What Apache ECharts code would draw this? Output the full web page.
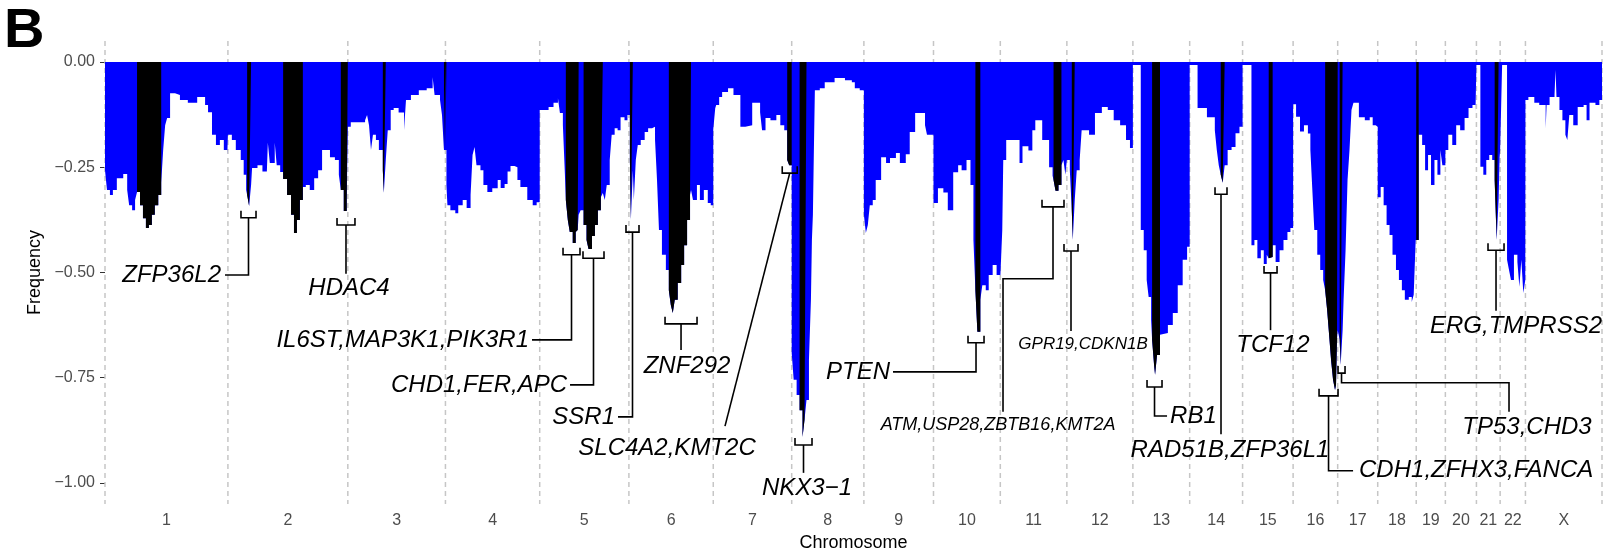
<!DOCTYPE html>
<html lang="en">
<head>
<meta charset="UTF-8">
<title>Deletion frequency</title>
<script src="https://cdn.jsdelivr.net/npm/echarts@6.0.0/dist/echarts.min.js"></script>
<style>
  html, body { margin: 0; padding: 0; background: #fff; }
  #chart { width: 1610px; height: 552px; }
</style>
</head>
<body>
<div id="chart"></div>
<script>
// chromosomes and their lengths (Mb)
var chrNames = ['1', '2', '3', '4', '5', '6', '7', '8', '9', '10', '11', '12',
    '13', '14', '15', '16', '17', '18', '19', '20', '21', '22', 'X'];
var chrLengths = [249.3, 243.2, 198.0, 191.2, 180.9, 171.1, 159.1, 146.4, 141.2, 135.5, 135.0, 133.9,
    115.2, 107.3, 102.5, 90.4, 81.2, 78.1, 59.1, 63.0, 48.1, 51.3, 155.3];

// deletion frequency per chromosome: [position Mb, frequency], each value holds until the next position
var chr1 = [[0, -0.257], [4, -0.304], [10, -0.316], [16, -0.304], [24, -0.276], [37, -0.266], [45, -0.304],
    [49, -0.34], [55, -0.352], [61, -0.328], [65, -0.309], [71, -0.34], [77, -0.371], [83, -0.394], [89, -0.387],
    [95, -0.363], [101, -0.34], [108, -0.316], [114, -0.287], [118, -0.209], [122, -0.15], [126, -0.133],
    [132, -0.074], [142, -0.078], [152, -0.09], [168, -0.097], [187, -0.083], [203, -0.102], [209, -0.119],
    [217, -0.173], [225, -0.197], [233, -0.185], [241, -0.209], [248, -0.221]];
var chr2 = [[0, -0.173], [8, -0.185], [16, -0.209], [26, -0.233], [32, -0.268], [37, -0.304], [39, -0.316],
    [43, -0.342], [47, -0.292], [49, -0.252], [60, -0.245], [70, -0.26], [79, -0.257], [81, -0.192], [85, -0.24],
    [95, -0.192], [99, -0.245], [106, -0.261], [112, -0.278], [120, -0.316], [128, -0.363], [134, -0.406],
    [140, -0.375], [146, -0.328], [152, -0.297], [158, -0.292], [166, -0.304], [175, -0.276], [183, -0.257],
    [191, -0.209], [207, -0.226], [217, -0.233], [225, -0.268], [229, -0.304], [235, -0.354], [241, -0.328]];
var chr3 = [[0, -0.154], [6, -0.143], [35, -0.138], [39, -0.126], [43, -0.15], [47, -0.209], [51, -0.173],
    [57, -0.185], [63, -0.209], [71, -0.257], [73, -0.311], [77, -0.233], [81, -0.162], [87, -0.114],
    [93, -0.109], [103, -0.12], [114, -0.162], [118, -0.09], [128, -0.078], [144, -0.067], [160, -0.062],
    [172, -0.036], [176, -0.078], [187, -0.09], [191, -0.126], [195, -0.209]];
var chr4 = [[0, -0.209], [2, -0.292], [4, -0.34], [10, -0.352], [20, -0.359], [26, -0.34], [35, -0.328],
    [43, -0.347], [51, -0.316], [55, -0.221], [59, -0.202], [63, -0.245], [71, -0.257], [77, -0.292],
    [85, -0.309], [95, -0.3], [106, -0.28], [112, -0.299], [120, -0.29], [126, -0.26], [132, -0.247],
    [140, -0.25], [146, -0.28], [152, -0.297], [166, -0.328], [177, -0.34], [185, -0.333]];
var chr5 = [[0, -0.114], [18, -0.107], [28, -0.097], [37, -0.086], [41, -0.121], [47, -0.15], [51, -0.264],
    [53, -0.328], [57, -0.375], [61, -0.404], [67, -0.43], [73, -0.404], [77, -0.399], [79, -0.363],
    [83, -0.352], [89, -0.387], [95, -0.423], [99, -0.444], [106, -0.413], [112, -0.387], [118, -0.352],
    [124, -0.321], [128, -0.311], [132, -0.328], [136, -0.292], [142, -0.233], [146, -0.173], [152, -0.157],
    [158, -0.162], [164, -0.131], [172, -0.138], [178, -0.126]];
var chr6 = [[0, -0.126], [2, -0.233], [4, -0.375], [8, -0.257], [10, -0.328], [14, -0.233], [18, -0.197],
    [24, -0.185], [32, -0.166], [39, -0.157], [47, -0.154], [53, -0.185], [57, -0.28], [61, -0.399],
    [67, -0.458], [75, -0.494], [81, -0.542], [85, -0.577], [89, -0.596], [93, -0.565], [99, -0.525],
    [106, -0.482], [112, -0.435], [118, -0.375], [124, -0.316], [126, -0.304], [130, -0.328], [138, -0.292],
    [144, -0.328], [152, -0.304], [160, -0.335], [166, -0.34]];
var chr7 = [[0, -0.16], [4, -0.11], [6, -0.102], [12, -0.083], [18, -0.071], [30, -0.062], [41, -0.078],
    [55, -0.154], [65, -0.15], [79, -0.097], [95, -0.119], [99, -0.162], [106, -0.133], [116, -0.138],
    [128, -0.126], [136, -0.15], [144, -0.162], [150, -0.233], [154, -0.245]];
var chr8 = [[0, -0.691], [4, -0.755], [10, -0.791], [16, -0.827], [22, -0.891], [26, -0.85], [30, -0.803],
    [35, -0.708], [39, -0.565], [41, -0.423], [43, -0.363], [45, -0.209], [47, -0.067], [57, -0.062],
    [67, -0.048], [87, -0.038], [108, -0.043], [122, -0.048], [128, -0.062], [138, -0.067]];
var chr9 = [[0, -0.363], [4, -0.406], [8, -0.387], [12, -0.34], [18, -0.328], [24, -0.28], [35, -0.226],
    [45, -0.24], [53, -0.228], [65, -0.216], [73, -0.24], [85, -0.219], [93, -0.166], [104, -0.121],
    [124, -0.15], [128, -0.173]];
var chr10 = [[0, -0.335], [9, -0.3], [20, -0.31], [29, -0.352], [40, -0.262], [50, -0.245], [57, -0.257],
    [67, -0.233], [75, -0.292], [81, -0.423], [85, -0.542], [89, -0.641], [95, -0.565], [99, -0.53],
    [106, -0.542], [112, -0.506], [120, -0.482], [128, -0.506]];
var chr11 = [[0, -0.511], [4, -0.399], [6, -0.233], [12, -0.185], [39, -0.24], [45, -0.2], [57, -0.21],
    [65, -0.162], [71, -0.138], [85, -0.185], [99, -0.25], [106, -0.27], [108, -0.28], [112, -0.306],
    [118, -0.292], [124, -0.245], [128, -0.233], [132, -0.268]];
var chr12 = [[0, -0.233], [6, -0.257], [10, -0.352], [12, -0.423], [16, -0.328], [20, -0.257], [26, -0.233],
    [30, -0.162], [45, -0.173], [57, -0.121], [71, -0.107], [83, -0.114], [95, -0.138], [108, -0.15],
    [120, -0.185], [128, -0.204]];
var chr13 = [[0, -0.007], [16, -0.399], [22, -0.447], [28, -0.518], [32, -0.558], [37, -0.613], [39, -0.66],
    [43, -0.72], [45, -0.743], [49, -0.696], [55, -0.648], [59, -0.644], [71, -0.625], [81, -0.596],
    [91, -0.53], [101, -0.47], [110, -0.439]];
var chr14 = [[0, -0.007], [16, -0.109], [35, -0.131], [51, -0.162], [55, -0.209], [59, -0.245], [63, -0.268],
    [67, -0.287], [71, -0.245], [77, -0.209], [85, -0.202], [93, -0.169], [101, -0.154]];
var chr15 = [[0, -0.007], [18, -0.435], [24, -0.423], [30, -0.466], [37, -0.447], [43, -0.48], [49, -0.458],
    [53, -0.466], [57, -0.463], [61, -0.435], [67, -0.475], [75, -0.447], [83, -0.423], [91, -0.404],
    [97, -0.394]];
var chr16 = [[0, -0.1], [6, -0.13], [14, -0.165], [22, -0.15], [30, -0.17], [35, -0.209], [39, -0.304],
    [43, -0.399], [49, -0.458], [55, -0.494], [61, -0.518], [65, -0.542], [69, -0.589], [73, -0.648],
    [77, -0.708], [81, -0.755], [85, -0.779], [87, -0.767], [89, -0.66]];
var chr17 = [[0, -0.637], [4, -0.66], [6, -0.72], [10, -0.637], [12, -0.565], [16, -0.447], [20, -0.28],
    [24, -0.209], [28, -0.114], [32, -0.097], [43, -0.131], [55, -0.138], [65, -0.131], [71, -0.15],
    [77, -0.154]];
var chr18 = [[0, -0.321], [6, -0.297], [12, -0.34], [18, -0.387], [24, -0.411], [30, -0.458], [37, -0.494],
    [43, -0.518], [49, -0.542], [55, -0.565], [63, -0.558], [69, -0.57], [73, -0.553], [77, -0.423]];
var chr19 = [[0, -0.423], [5, -0.173], [12, -0.197], [18, -0.257], [24, -0.221], [30, -0.292], [37, -0.233],
    [43, -0.268], [49, -0.209], [53, -0.245]];
var chr20 = [[0, -0.209], [6, -0.173], [14, -0.197], [22, -0.15], [30, -0.162], [39, -0.133], [47, -0.109],
    [55, -0.102], [61, -0.119]];
var chr21 = [[0, -0.007], [8, -0.249], [14, -0.268], [20, -0.233], [26, -0.221], [32, -0.233], [37, -0.28],
    [41, -0.423], [45, -0.328], [47, -0.226]];
var chr22 = [[0, -0.209], [4, -0.007], [14, -0.47], [18, -0.494], [22, -0.518], [28, -0.458], [35, -0.475],
    [39, -0.534], [43, -0.47], [47, -0.549], [51, -0.518]];
var chrX = [[0, -0.09], [6, -0.083], [18, -0.097], [28, -0.102], [41, -0.157], [43, -0.102], [49, -0.083],
    [59, -0.078], [61, -0.019], [63, -0.083], [69, -0.114], [75, -0.138], [81, -0.173], [85, -0.185],
    [89, -0.126], [97, -0.15], [106, -0.107], [118, -0.102], [124, -0.138], [130, -0.097], [142, -0.102],
    [150, -0.09]];

var profiles = [chr1, chr2, chr3, chr4, chr5, chr6, chr7, chr8, chr9, chr10, chr11, chr12,
    chr13, chr14, chr15, chr16, chr17, chr18, chr19, chr20, chr21, chr22, chrX];

// significant deletion peaks (chromosome, start Mb, end Mb), drawn in black
var peaks = [['1', 65, 114], ['2', 39, 47], ['2', 112, 152], ['2', 229, 243.2], ['3', 71, 77],
    ['3', 195, 198], ['4', 0, 2], ['5', 53, 79], ['5', 89, 128], ['6', 2, 8], ['6', 81, 126],
    ['7', 150, 159.1], ['8', 16, 30], ['10', 85, 95], ['11', 108, 124], ['12', 10, 16], ['13', 39, 55],
    ['14', 63, 71], ['15', 53, 61], ['16', 65, 90.4], ['17', 4, 10], ['18', 77, 78.1], ['19', 0, 5],
    ['21', 37, 45]];

// gene labels: bracket span (genome Mb), bracket level, leader path (null x = same as before), label anchor
var notes = [
    {gene: 'ZFP36L2', x0: 275.8, x1: 306.3, y: -0.370, path: [[null, -0.506], [243.4, -0.506]], at: [235.3, -0.506], align: 'right', size: 24},
    {gene: 'HDAC4', x0: 470.6, x1: 507.0, y: -0.387, path: [[null, -0.503]], at: [494.9, -0.537], align: 'center', size: 24},
    {gene: 'IL6ST,MAP3K1,PIK3R1', x0: 929.0, x1: 963.4, y: -0.458, path: [[null, -0.660], [866.1, -0.660]], at: [860.0, -0.660], align: 'right', size: 24},
    {gene: 'CHD1,FER,APC', x0: 969.5, x1: 1012.1, y: -0.466, path: [[null, -0.767], [943.2, -0.767]], at: [937.1, -0.767], align: 'right', size: 24},
    {gene: 'SSR1', x0: 1056.7, x1: 1083.1, y: -0.404, path: [[null, -0.843], [1040.5, -0.843]], at: [1034.4, -0.843], align: 'right', size: 24},
    {gene: 'ZNF292', x0: 1135.9, x1: 1200.8, y: -0.622, path: [[null, -0.684]], at: [1180.5, -0.722], align: 'center', size: 24},
    {gene: 'SLC4A2,KMT2C', x0: 1373.6, x1: 1404.0, y: -0.264, path: [[1257.5, -0.865]], at: [1139.9, -0.917], align: 'center', size: 24},
    {gene: 'NKX3\u22121', x0: 1399.5, x1: 1434.0, y: -0.910, path: [[null, -0.976]], at: [1423.9, -1.012], align: 'center', size: 24},
    {gene: 'PTEN', x0: 1750.4, x1: 1782.9, y: -0.667, path: [[null, -0.736], [1598.3, -0.736]], at: [1592.2, -0.736], align: 'right', size: 24},
    {gene: 'ATM,USP28,ZBTB16,KMT2A', x0: 1900.5, x1: 1945.1, y: -0.344, path: [[null, -0.515], [1821.4, -0.515], [null, -0.831]], at: [1811.3, -0.862], align: 'center', size: 18},
    {gene: 'GPR19,CDKN1B', x0: 1945.1, x1: 1973.5, y: -0.449, path: [[null, -0.639]], at: [1983.7, -0.670], align: 'center', size: 17},
    {gene: 'RB1', x0: 2113.5, x1: 2143.9, y: -0.772, path: [[null, -0.841], [2154.1, -0.841]], at: [2160.2, -0.841], align: 'left', size: 24},
    {gene: 'RAD51B,ZFP36L1', x0: 2251.4, x1: 2275.7, y: -0.314, path: [[null, -0.884]], at: [2281.8, -0.922], align: 'center', size: 24},
    {gene: 'TCF12', x0: 2350.8, x1: 2377.2, y: -0.501, path: [[null, -0.637]], at: [2369.1, -0.672], align: 'center', size: 24},
    {gene: 'CDH1,ZFHX3,FANCA', x0: 2462.4, x1: 2500.9, y: -0.793, path: [[null, -0.971], [2531.4, -0.971]], at: [2543.5, -0.971], align: 'left', size: 24},
    {gene: 'TP53,CHD3', x0: 2500.9, x1: 2515.1, y: -0.739, path: [[null, -0.762], [2847.7, -0.762], [null, -0.831]], at: [2884.2, -0.867], align: 'center', size: 24},
    {gene: 'ERG,TMPRSS2', x0: 2805.1, x1: 2837.6, y: -0.447, path: [[null, -0.591]], at: [2861.9, -0.629], align: 'center', size: 24}
];

var yTicks = [-1, -0.75, -0.5, -0.25, 0];

// genome offsets
var starts = [];
var total = 0;
chrLengths.forEach(function (len) { starts.push(total); total += len; });
var centers = starts.map(function (s, i) { return s + chrLengths[i] / 2; });
var bounds = starts.concat([total]).map(function (b) { return [b, 0]; });

function valueAt(prof, x) {
    var v = prof[0][1];
    for (var i = 0; i < prof.length; i++) {
        if (prof[i][0] <= x) v = prof[i][1];
    }
    return v;
}

var blueData = [];
profiles.forEach(function (prof, k) {
    prof.forEach(function (q) { blueData.push([starts[k] + q[0], q[1]]); });
    blueData.push([starts[k] + chrLengths[k], prof[prof.length - 1][1]]);
});

var blackData = [];
peaks.forEach(function (p) {
    var k = chrNames.indexOf(p[0]);
    var prof = profiles[k], off = starts[k];
    blackData.push([off + p[1], valueAt(prof, p[1])]);
    prof.forEach(function (q) {
        if (q[0] > p[1] && q[0] < p[2]) blackData.push([off + q[0], q[1]]);
    });
    blackData.push([off + p[2], valueAt(prof, p[2] - 1e-6)]);
    blackData.push([off + p[2], '-']);
});

var FONT = '"Liberation Sans", Arial, Helvetica, sans-serif';

function drawBound(params, api) {
    var x = api.value(0);
    var a = api.coord([x, 0.05]);
    var b = api.coord([x, -1.05]);
    return {
        type: 'line',
        shape: {x1: a[0], y1: a[1], x2: b[0], y2: b[1]},
        style: {stroke: '#c6c6c6', lineWidth: 1.5, lineDash: [5, 4]}
    };
}

function drawNote(params, api) {
    var n = notes[params.dataIndex];
    var p0 = api.coord([n.x0, n.y]);
    var p1 = api.coord([n.x1, n.y]);
    var bracket = [[p0[0], p0[1] - 7], [p0[0], p0[1]], [p1[0], p1[1]], [p1[0], p1[1] - 7]];
    var lastX = (n.x0 + n.x1) / 2;
    var pts = [[(p0[0] + p1[0]) / 2, p0[1]]];
    n.path.forEach(function (q) {
        var x = q[0] === null ? lastX : q[0];
        lastX = x;
        pts.push(api.coord([x, q[1]]));
    });
    var lp = api.coord(n.at);
    return {
        type: 'group',
        children: [
            {type: 'polyline', shape: {points: bracket}, style: {stroke: '#000', lineWidth: 1.6, fill: null}},
            {type: 'polyline', shape: {points: pts}, style: {stroke: '#000', lineWidth: 1.6, fill: null}},
            {
                type: 'text', x: lp[0], y: lp[1],
                style: {
                    text: n.gene, fill: '#000', fontSize: n.size, fontStyle: 'italic',
                    fontFamily: FONT, align: n.align, verticalAlign: 'middle'
                }
            }
        ]
    };
}

var myChart = echarts.init(document.getElementById('chart'));
var option = {
    animation: false,
    backgroundColor: '#fff',
    textStyle: {fontFamily: FONT},
    grid: {left: 105, right: 8, top: 41, bottom: 48, containLabel: false, outerBoundsMode: 'none'},
    graphic: [{
        type: 'text', left: 4, top: 4,
        style: {text: 'B', fontSize: 56, fontWeight: 'bold', fontFamily: FONT, fill: '#000'}
    }],
    xAxis: {
        type: 'value', min: 0, max: total,
        name: 'Chromosome', nameLocation: 'middle', nameGap: 27,
        nameTextStyle: {fontSize: 18, color: '#000', fontFamily: FONT},
        axisLine: {show: false},
        splitLine: {show: false},
        axisTick: {show: true, length: 5, customValues: centers, lineStyle: {color: '#333', width: 1}},
        axisLabel: {
            customValues: centers, margin: 9, fontSize: 16, color: '#4d4d4d', fontFamily: FONT,
            formatter: function (v) {
                var i = centers.indexOf(v);
                return i >= 0 ? chrNames[i] : '';
            }
        }
    },
    yAxis: {
        type: 'value', min: -1.05, max: 0.05,
        name: 'Frequency', nameLocation: 'middle', nameGap: 57,
        nameTextStyle: {fontSize: 18, color: '#000', fontFamily: FONT},
        axisLine: {show: false},
        splitLine: {show: false},
        axisTick: {show: true, length: 5, customValues: yTicks, lineStyle: {color: '#333', width: 1}},
        axisLabel: {
            customValues: yTicks, margin: 10, fontSize: 16, color: '#4d4d4d', fontFamily: FONT,
            formatter: function (v) {
                return (v < 0 ? '\u2212' : '') + Math.abs(v).toFixed(2);
            }
        }
    },
    series: [
        {
            type: 'custom', name: 'bounds', z: 1, silent: true, clip: false,
            renderItem: drawBound, data: bounds
        },
        {
            type: 'line', name: 'frequency', z: 2, step: 'end', symbol: 'none', silent: true,
            lineStyle: {width: 0}, areaStyle: {color: '#0000ff', opacity: 1},
            data: blueData
        },
        {
            type: 'line', name: 'peaks', z: 3, step: 'end', symbol: 'none', silent: true,
            connectNulls: false,
            lineStyle: {width: 0}, areaStyle: {color: '#000000', opacity: 1},
            data: blackData
        },
        {
            type: 'custom', name: 'genes', z: 4, silent: true, clip: false,
            renderItem: drawNote,
            data: notes.map(function (n) { return [n.x0, n.y]; })
        }
    ]
};
myChart.setOption(option);
</script>
</body>
</html>
